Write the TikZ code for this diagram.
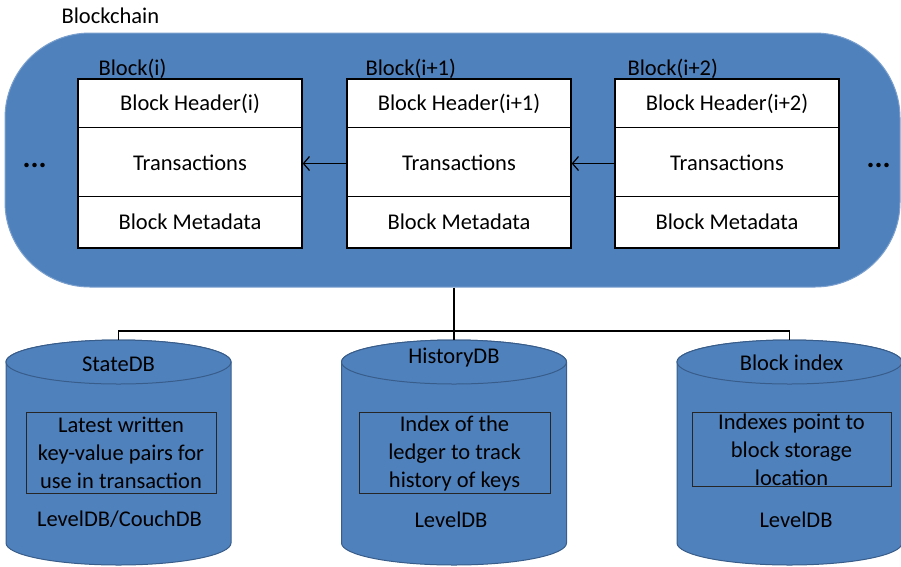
\documentclass[tikz,border=0pt]{standalone}
\usepackage{fontspec}
\setmainfont{Carlito}
\usetikzlibrary{positioning,arrows.meta}
\definecolor{chainblue}{RGB}{79,129,189}
\definecolor{dbedge}{RGB}{56,93,138}
\tikzset{
	blockbox/.style={draw, fill=white, line width=1.4pt, minimum width=224pt, minimum height=169pt, inner sep=0pt},
	notebox/.style={draw=black!85, line width=1pt, inner sep=0pt},
	dbbody/.style={draw=dbedge, fill=chainblue, line width=1pt},
	link/.style={line width=1.2pt},
}
\begin{document}
\begin{tikzpicture}[x=1pt,y=-1pt,font=\fontsize{22.5}{28}\selectfont]
	\useasboundingbox (0,0) rectangle (901,566);
	% the chain
	\node[anchor=base west] (title) at (58,23) {Blockchain};
	\node[draw=chainblue!75!white, fill=chainblue, line width=1pt, rounded corners=85pt, minimum width=895pt, minimum height=254pt] (chain) at (452.5,160) {};
	\foreach \bx/\nm/\lx/\idx in {190/b0/95/i, 459/b1/362/i+1, 727/b2/624/i+2}{
		\node[blockbox] (\nm) at (\bx,163.5) {};
		\node[anchor=base west] (\nm lab) at (\lx,75) {Block(\idx)};
		\draw[line width=1.4pt] ([yshift=-49pt]\nm.north west) -- ([yshift=-49pt]\nm.north east);
		\draw[line width=1.4pt] ([yshift=-118pt]\nm.north west) -- ([yshift=-118pt]\nm.north east);
		\node (\nm head) at (\bx,104) {Block Header(\idx)};
		\node (\nm tx) at (\bx,163) {Transactions};
		\node (\nm meta) at (\bx,222) {Block Metadata};
	}
	\draw[link,-{Straight Barb[length=6pt,width=14pt]}] (b1.west) -- (b0.east);
	\draw[link,-{Straight Barb[length=6pt,width=14pt]}] (b2.west) -- (b1.east);
	\node[font=\fontsize{30}{30}\selectfont\bfseries, anchor=base west] (dotsl) at (19,167) {...};
	\node[font=\fontsize{30}{30}\selectfont\bfseries, anchor=base west] (dotsr) at (863,167) {...};
	% the databases
	\foreach \cx/\nm in {118.5/sdb, 454/hdb, 789.5/bix}{
		\draw[dbbody] (\cx-112.5,362) -- (\cx-112.5,543) arc[start angle=180, end angle=360, x radius=112.5pt, y radius=22pt] -- (\cx+112.5,362) arc[start angle=0, end angle=180, x radius=112.5pt, y radius=22pt] -- cycle;
		\draw[dbbody] (\cx,362) ellipse [x radius=112.5pt, y radius=22pt];
		\coordinate (\nm top) at (\cx,340);
	}
	\coordinate (bus) at (455,331);
	\draw[link] (sdbtop) |- (bus) -| (bixtop);
	\draw[link] (chain.south -| hdbtop) -- (hdbtop);
	\node (sdbname) at (118.5,364) {StateDB};
	\node (hdbname) at (454,358) {HistoryDB};
	\node (bixname) at (791.5,363) {Block index};
	\node[notebox, minimum width=190pt, minimum height=81pt] (sdbbox) at (121,452.5) {};
	\node[notebox, minimum width=191pt, minimum height=81pt] (hdbbox) at (454.5,452.5) {};
	\node[notebox, minimum width=199pt, minimum height=74pt] (bixbox) at (791.5,449) {};
	\node[align=center] (sdbnote) at (121,453) {Latest written\\key-value pairs for\\use in transaction};
	\node[align=center] (hdbnote) at (454.5,453) {Index of the\\ledger to track\\history of keys};
	\node[align=center] (bixnote) at (791.5,450) {Indexes point to\\block storage\\location};
	\node (sdbkind) at (119.5,519) {LevelDB/CouchDB};
	\node (hdbkind) at (451,520) {LevelDB};
	\node (bixkind) at (796,520) {LevelDB};
\end{tikzpicture}
\end{document}
